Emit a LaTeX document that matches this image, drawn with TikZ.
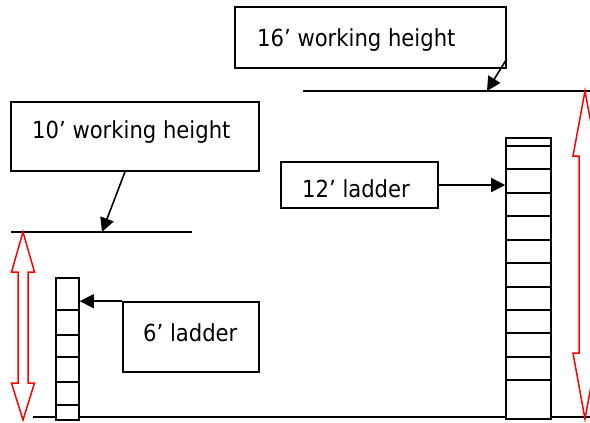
\documentclass[tikz,border=0pt]{standalone}
\usepackage{fontspec}
\setmainfont{DejaVu Sans Condensed}
\usetikzlibrary{arrows.meta,calc}
\begin{document}
\begin{tikzpicture}[x=1pt,y=-1pt,
  lw/.style={line width=1.6pt},
  box/.style={draw,lw,rectangle,inner sep=0pt},
  txt/.style={inner sep=0pt,anchor=base west,font=\fontsize{23.5}{28}\selectfont},
  conn/.style={lw,-{Triangle[length=14pt,width=14pt]}},
  ladderbox/.style={draw,lw,rectangle,inner sep=0pt,fill=white},
  redarrow/.style={draw=red,line width=1.5pt,fill=white,line join=miter}
]
\useasboundingbox (0,0) rectangle (590,423);
\fill[white] (0,0) rectangle (590,423);

% horizontal lines
\coordinate (l16a) at (303,91);
\coordinate (l16b) at (592,91);
\draw[lw] (l16a) -- (l16b);
\coordinate (l10a) at (11,232);
\coordinate (l10b) at (192,232);
\draw[lw] (l10a) -- (l10b);
\coordinate (gnda) at (33,417);
\coordinate (gndb) at (592,417);
\draw[lw] (gnda) -- (gndb);

% red double arrows
\begin{scope}
\clip (0,0) rectangle (590,423);
\draw[redarrow] (23,232) -- (34.5,272) -- (28,272) -- (28,383) -- (34.5,383) -- (23,420)
  -- (11.5,383) -- (18,383) -- (18,272) -- (11.5,272) -- cycle;
\draw[redarrow] (585,91) -- (597,156) -- (591,156) -- (591,353) -- (597,353) -- (585,419)
  -- (573,353) -- (579,353) -- (579,156) -- (573,156) -- cycle;
\end{scope}

% ladders
\node[ladderbox,minimum width=23pt,minimum height=142pt] (lad6) at (67.5,349) {};
\foreach \y in {310,335,357,382,405}
  \draw[lw] (lad6.west |- 0,\y) -- (lad6.east |- 0,\y);
\node[ladderbox,minimum width=45pt,minimum height=281pt] (lad12) at (528.5,278.5) {};
\foreach \y in {146,169,193,216,240,263,287,310,333,357,380}
  \draw[lw] (lad12.west |- 0,\y) -- (lad12.east |- 0,\y);

% label boxes
\node[box,minimum width=271pt,minimum height=61pt] (b16) at (370.5,37.5) {};
\node[txt] (t16) at (257,46) {16’ working height};
\node[box,minimum width=248pt,minimum height=69pt] (b10) at (135,136.5) {};
\node[txt] (t10) at (32,138) {10’ working height};
\node[box,minimum width=157pt,minimum height=46pt] (b12) at (359.5,185) {};
\node[txt] (t12) at (302,197) {12’ ladder};
\node[box,minimum width=136pt,minimum height=70pt] (b6) at (191,337) {};
\node[txt] (t6) at (143,341) {6’ ladder};

% connectors
\coordinate (p16) at (487,91);
\draw[conn] ($(b16.south east)+(0,-10)$) -- (p16);
\coordinate (p10) at (102,232);
\draw[conn] (b10.south -| 125,0) -- (p10);
\draw[conn] (b12.east) -- (lad12.west |- b12.east);
\draw[conn] (b6.north west) -- (lad6.east |- b6.north west);
\end{tikzpicture}
\end{document}
